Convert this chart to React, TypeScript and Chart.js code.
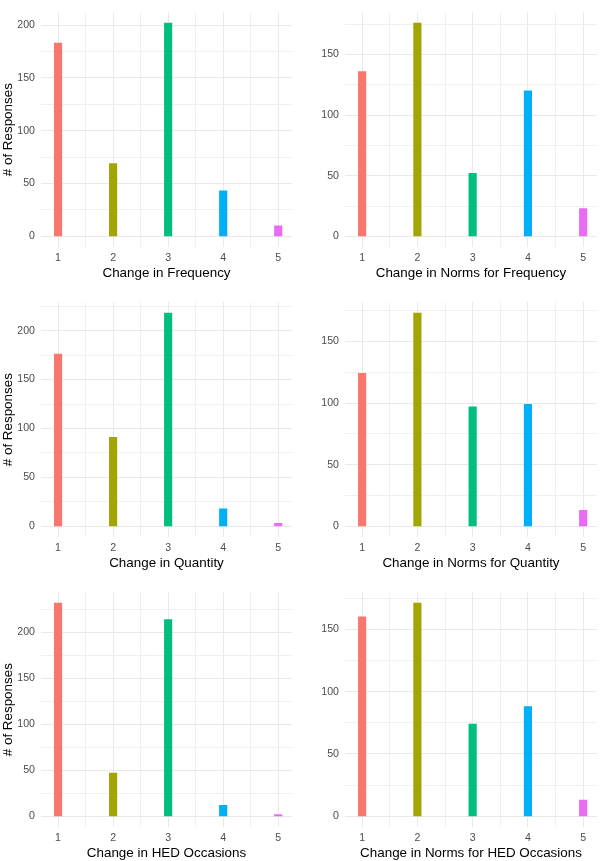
import React, { useEffect, useRef } from "react";
import { Chart, registerables } from "chart.js";

Chart.register(...registerables);

// ---- data ----
const categories = [1, 2, 3, 4, 5];
const categoryLabels = ["1", "2", "3", "4", "5"];
const barColors = ["#F8766D", "#A3A500", "#00BF7D", "#00B0F6", "#E76BF3"];

const frequencyValues = [183, 69, 202, 43, 10];
const normsFrequencyValues = [136, 176, 52, 120, 23];
const quantityValues = [176, 91, 218, 18, 3];
const normsQuantityValues = [124, 173, 97, 99, 13];
const hedValues = [232, 47, 214, 12, 2];
const normsHedValues = [160, 171, 74, 88, 13];

const yMajorTicks = [0, 50, 100, 150, 200];
const yMinorTicks = [25, 75, 125, 175, 225];
const xMinorTicks = [1.5, 2.5, 3.5, 4.5];

const titles = [
  "Change in Frequency",
  "Change in Norms for Frequency",
  "Change in Quantity",
  "Change in Norms for Quantity",
  "Change in HED Occasions",
  "Change in Norms for HED Occasions",
];
const seriesList = [
  frequencyValues,
  normsFrequencyValues,
  quantityValues,
  normsQuantityValues,
  hedValues,
  normsHedValues,
];

const yTitle = "# of Responses";

// ---- style ----
const FONT = "'Liberation Sans', Arial, Helvetica, sans-serif";
const TICK_COLOR = "#4D4D4D";
const MAJOR_GRID = "#E9E9E9";
const MINOR_GRID = "#F0F0F0";
const CANVAS_W = 300;
const CANVAS_H = 281;
const ROW_TOP = [0, 290, 580];

type PanelProps = { title: string; values: number[]; col: number; row: number };

function Panel({ title, values, col, row }: PanelProps) {
  const ref = useRef<HTMLCanvasElement | null>(null);

  useEffect(() => {
    if (!ref.current) return;
    const maxV = Math.max(...values);
    const yMin = -0.05 * maxV;
    const yMax = 1.05 * maxV;
    const isLeft = col === 0;

    const chart = new Chart(ref.current, {
      type: "bar",
      data: {
        datasets: [
          {
            data: categories.map((c, i) => ({ x: c, y: values[i] })),
            backgroundColor: barColors,
            borderWidth: 0,
            barThickness: 7.5,
          } as any,
        ],
      },
      options: {
        animation: false,
        responsive: false,
        maintainAspectRatio: false,
        layout: { padding: { top: 3, right: isLeft ? 8 : 3, left: 0, bottom: 0 } },
        plugins: { legend: { display: false }, tooltip: { enabled: false } },
        scales: {
          x: {
            type: "linear",
            min: 0.69,
            max: 5.25,
            offset: false,
            bounds: "data",
            grid: {
              offset: false,
              drawTicks: false,
              lineWidth: 1,
              color: (ctx: any) =>
                ctx.tick && Number.isInteger(ctx.tick.value) ? MAJOR_GRID : MINOR_GRID,
            },
            border: { display: false },
            afterBuildTicks: (scale: any) => {
              scale.ticks = [...categories, ...xMinorTicks]
                .sort((a, b) => a - b)
                .map((v) => ({ value: v }));
            },
            afterFit: (scale: any) => {
              scale.height = 34;
            },
            ticks: {
              autoSkip: false,
              maxRotation: 0,
              padding: 5,
              color: TICK_COLOR,
              font: { family: FONT, size: 10.6 },
              callback: (v: any) => {
                const idx = categories.indexOf(Number(v));
                return idx >= 0 ? categoryLabels[idx] : "";
              },
            },
            title: {
              display: true,
              text: title,
              color: "#000000",
              font: { family: FONT, size: 13.4 },
              padding: 0,
            },
          },
          y: {
            type: "linear",
            min: yMin,
            max: yMax,
            bounds: "data",
            grid: {
              drawTicks: false,
              lineWidth: 1,
              color: (ctx: any) =>
                ctx.tick && yMajorTicks.includes(ctx.tick.value) ? MAJOR_GRID : MINOR_GRID,
            },
            border: { display: false },
            afterBuildTicks: (scale: any) => {
              scale.ticks = [...yMajorTicks, ...yMinorTicks]
                .filter((v) => v >= yMin && v <= yMax)
                .sort((a, b) => a - b)
                .map((v) => ({ value: v }));
            },
            afterFit: (scale: any) => {
              scale.width = isLeft ? 41 : 45;
            },
            ticks: {
              autoSkip: false,
              padding: 6,
              color: TICK_COLOR,
              font: { family: FONT, size: 10.6 },
              callback: (v: any) => (yMajorTicks.includes(Number(v)) ? String(v) : ""),
            },
            title: {
              display: isLeft,
              text: yTitle,
              color: "#000000",
              font: { family: FONT, size: 13.4 },
              padding: 0,
            },
          },
        },
      } as any,
    });
    return () => chart.destroy();
  }, [title, values, col, row]);

  return (
    <canvas
      ref={ref}
      width={CANVAS_W}
      height={CANVAS_H}
      style={{
        position: "absolute",
        left: col * CANVAS_W,
        top: ROW_TOP[row],
        width: CANVAS_W,
        height: CANVAS_H,
      }}
    />
  );
}

export default function App() {
  return (
    <div
      style={{
        position: "fixed",
        left: 0,
        top: 0,
        width: 600,
        height: 861,
        background: "#ffffff",
        overflow: "hidden",
      }}
    >
      {titles.map((t, i) => (
        <Panel key={t} title={t} values={seriesList[i]} col={i % 2} row={Math.floor(i / 2)} />
      ))}
    </div>
  );
}
